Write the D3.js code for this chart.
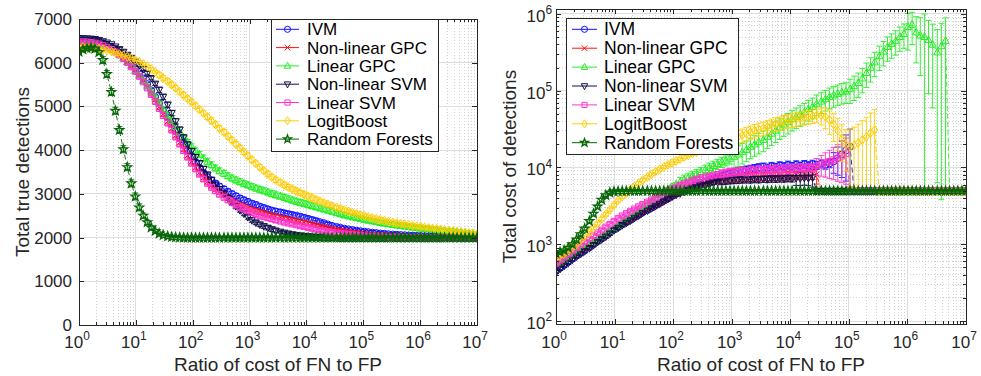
<!DOCTYPE html>
<html><head><meta charset="utf-8">
<script src="https://cdn.jsdelivr.net/npm/d3@7"></script>
<style>body{margin:0;background:#fff}svg{display:block}</style>
</head><body><svg id="c" width="981" height="376"></svg>
<script>
// ---------------- DATA ----------------
const ratioLog10 = [
0.00,0.07,0.14,0.21,0.28,0.35,0.42,0.49,0.57,0.64,
0.71,0.78,0.85,0.92,0.99,1.06,1.13,1.20,1.27,1.34,
1.41,1.48,1.56,1.63,1.70,1.77,1.84,1.91,1.98,2.05,
2.12,2.19,2.26,2.33,2.40,2.47,2.55,2.62,2.69,2.76,
2.83,2.90,2.97,3.04,3.11,3.18,3.25,3.32,3.39,3.46,
3.54,3.61,3.68,3.75,3.82,3.89,3.96,4.03,4.10,4.17,
4.24,4.31,4.38,4.45,4.53,4.60,4.67,4.74,4.81,4.88,
4.95,5.02,5.09,5.16,5.23,5.30,5.37,5.44,5.52,5.59,
5.66,5.73,5.80,5.87,5.94,6.01,6.08,6.15,6.22,6.29,
6.36,6.43,6.51,6.58,6.65,6.72,6.79,6.86,6.93,7.00];

const seriesNames = ["IVM","Non-linear GPC","Linear GPC","Non-linear SVM","Linear SVM","LogitBoost","Random Forests"];
const xTickExp = [0,1,2,3,4,5,6,7];
const leftYTicks = [0,1000,2000,3000,4000,5000,6000,7000];
const rightYTickExp = [2,3,4,5,6];
const xLabel = "Ratio of cost of FN to FP";
const leftYLabel = "Total true detections";
const rightYLabel = "Total cost of detections";

// Left panel: total true detections (means)
const leftIVM = [
6520,6520,6515,6510,6500,6480,6450,6410,6360,6300,
6230,6150,6060,5970,5870,5760,5640,5510,5370,5220,
5070,4910,4750,4590,4430,4270,4120,3980,3840,3710,
3590,3480,3390,3310,3240,3170,3110,3050,3000,2950,
2900,2860,2820,2780,2750,2710,2680,2650,2620,2600,
2580,2560,2540,2520,2500,2480,2455,2430,2405,2380,
2355,2330,2300,2270,2245,2225,2205,2190,2175,2160,
2148,2136,2125,2115,2105,2095,2087,2079,2072,2066,
2060,2055,2050,2045,2041,2037,2033,2030,2027,2024,
2021,2019,2017,2015,2013,2011,2009,2008,2007,2006];
const leftNLGPC = [
6500,6500,6495,6490,6475,6455,6420,6380,6330,6270,
6200,6120,6030,5930,5830,5710,5590,5450,5300,5150,
4990,4830,4660,4500,4340,4180,4030,3880,3740,3610,
3490,3380,3280,3190,3110,3040,2970,2910,2850,2800,
2750,2710,2670,2640,2610,2580,2555,2530,2505,2480,
2460,2440,2420,2400,2380,2360,2340,2320,2300,2280,
2260,2240,2220,2200,2180,2165,2150,2135,2120,2110,
2100,2090,2080,2070,2062,2055,2048,2042,2036,2031,
2026,2022,2018,2015,2012,2010,2008,2006,2004,2003,
2002,2001,2001,2000,2000,2000,2000,2000,2000,2000];
const leftLinGPC = [
6500,6500,6495,6485,6470,6445,6410,6365,6310,6250,
6180,6100,6010,5915,5815,5705,5590,5470,5340,5205,
5065,4925,4800,4670,4530,4405,4290,4185,4085,3990,
3900,3815,3735,3660,3590,3525,3465,3410,3360,3315,
3275,3235,3200,3165,3130,3100,3070,3040,3005,2975,
2945,2915,2885,2855,2828,2800,2775,2750,2725,2700,
2670,2645,2620,2595,2560,2535,2512,2490,2468,2448,
2428,2408,2390,2372,2355,2338,2322,2307,2292,2278,
2265,2252,2240,2228,2217,2206,2196,2186,2176,2167,
2158,2149,2140,2131,2122,2113,2104,2095,2087,2080];
const leftNLSVM = [
6560,6560,6555,6550,6540,6520,6490,6460,6420,6370,
6310,6250,6180,6110,6040,5950,5860,5760,5650,5520,
5380,5220,5040,4850,4660,4470,4290,4130,3980,3840,
3700,3570,3440,3320,3210,3110,3010,2910,2810,2720,
2630,2550,2470,2400,2345,2300,2260,2225,2190,2160,
2135,2112,2092,2075,2060,2048,2038,2030,2022,2016,
2011,2007,2004,2002,2000,1998,1997,1996,1995,1995,
1995,1995,1994,1994,1994,1993,1993,1993,1993,1993,
1993,1993,1993,1993,1993,1993,1993,1993,1993,1993,
1993,1993,1993,1993,1993,1993,1993,1993,1993,1993];
const leftLinSVM = [
6480,6480,6475,6465,6450,6430,6395,6355,6305,6245,
6175,6095,6005,5905,5800,5685,5560,5420,5270,5110,
4950,4790,4620,4460,4300,4140,3990,3840,3700,3570,
3450,3340,3240,3150,3070,2990,2920,2860,2800,2745,
2695,2650,2610,2570,2535,2505,2475,2450,2425,2400,
2375,2350,2330,2310,2290,2270,2250,2230,2210,2190,
2170,2155,2140,2125,2110,2098,2086,2075,2065,2055,
2046,2038,2030,2023,2017,2012,2008,2004,2001,1998,
1996,1995,1994,1993,1993,1992,1992,1992,1992,1992,
1992,1992,1992,1992,1992,1992,1992,1992,1992,1992];
const leftLogitBoost = [
6350,6355,6355,6350,6340,6325,6305,6280,6255,6225,
6195,6165,6135,6100,6065,6020,5970,5915,5855,5790,
5720,5650,5575,5500,5420,5340,5260,5180,5100,5015,
4930,4845,4760,4675,4590,4500,4410,4320,4230,4140,
4050,3960,3870,3780,3695,3610,3530,3455,3385,3320,
3260,3205,3155,3110,3065,3025,2985,2945,2905,2865,
2830,2795,2760,2725,2690,2660,2630,2600,2570,2545,
2520,2495,2470,2448,2426,2405,2385,2366,2348,2331,
2315,2300,2286,2272,2259,2246,2234,2222,2210,2198,
2186,2174,2162,2150,2138,2126,2114,2102,2090,2078];
const leftRandomForests = [
6250,6300,6330,6340,6320,6240,6060,5740,5330,4900,
4460,4020,3610,3240,2940,2690,2500,2350,2230,2150,
2090,2055,2030,2015,2005,2000,1998,1996,1995,1995,
1995,1994,1995,1995,1994,1995,1995,1994,1995,1995,
1995,1994,1995,1995,1994,1995,1995,1994,1995,1995,
1995,1994,1995,1995,1994,1995,1995,1994,1995,1995,
1995,1994,1995,1995,1994,1995,1995,1994,1995,1995,
1995,1994,1995,1995,1994,1995,1995,1994,1995,1995,
1995,1994,1995,1995,1994,1995,1995,1994,1995,1995,
1995,1994,1995,1995,1994,1995,1995,1994,1995,1995];

// Left panel: error bar half-widths (detections)
const leftErrIVM = [
20,20,20,20,20,20,20,20,20,20,
40,40,40,40,40,40,40,40,40,40,
60,60,60,60,60,60,60,60,60,60,
60,60,60,60,60,60,60,60,60,60,
60,60,60,60,60,60,60,60,60,60,
60,60,60,60,60,60,60,60,60,60,
45,45,45,45,45,45,45,45,45,45,
45,45,45,45,45,45,45,45,45,45,
30,30,30,30,30,30,30,30,30,30,
30,30,30,30,30,30,30,30,30,30];
const leftErrNLGPC = [
20,20,20,20,20,20,20,20,20,20,
40,40,40,40,40,40,40,40,40,40,
60,60,60,60,60,60,60,60,60,60,
60,60,60,60,60,60,60,60,60,60,
55,55,55,55,55,55,55,55,55,55,
50,50,50,50,50,50,50,50,50,50,
40,40,40,40,40,40,40,40,40,40,
30,30,30,30,30,30,30,30,30,30,
20,20,20,20,20,20,20,20,20,20,
15,15,15,15,15,15,15,15,15,15];
const leftErrLinGPC = [
20,20,20,20,20,20,20,20,20,20,
40,40,40,40,40,40,40,40,40,40,
60,60,60,60,60,60,60,60,60,60,
70,70,70,70,70,70,70,70,70,70,
70,70,70,70,70,70,70,70,70,70,
70,70,70,70,70,70,70,70,70,70,
60,60,60,60,60,60,60,60,60,60,
55,55,55,55,55,55,55,55,55,55,
45,45,45,45,45,45,45,45,45,45,
40,40,40,40,40,40,40,40,40,40];
const leftErrNLSVM = [
20,20,20,20,20,20,20,20,20,20,
40,40,40,40,40,40,40,40,40,40,
60,60,60,60,60,60,60,60,60,60,
60,60,60,60,60,60,60,60,60,60,
50,50,50,50,50,50,50,50,50,50,
30,30,30,30,30,30,30,30,30,30,
15,15,15,15,15,15,15,15,15,15,
10,10,10,10,10,10,10,10,10,10,
10,10,10,10,10,10,10,10,10,10,
10,10,10,10,10,10,10,10,10,10];
const leftErrLinSVM = [
20,20,20,20,20,20,20,20,20,20,
40,40,40,40,40,40,40,40,40,40,
60,60,60,60,60,60,60,60,60,60,
60,60,60,60,60,60,60,60,60,60,
55,55,55,55,55,55,55,55,55,55,
45,45,45,45,45,45,45,45,45,45,
35,35,35,35,35,35,35,35,35,35,
25,25,25,25,25,25,25,25,25,25,
15,15,15,15,15,15,15,15,15,15,
15,15,15,15,15,15,15,15,15,15];
const leftErrLogitBoost = [
30,30,30,30,30,30,30,30,30,30,
30,30,30,30,30,30,30,30,30,30,
60,60,60,60,60,60,60,60,60,60,
60,60,60,60,60,60,60,60,60,60,
60,60,60,60,60,60,60,60,60,60,
60,60,60,60,60,60,60,60,60,60,
45,45,45,45,45,45,45,45,45,45,
45,45,45,45,45,45,45,45,45,45,
40,40,40,40,40,40,40,40,40,40,
40,40,40,40,40,40,40,40,40,40];
const leftErrRandomForests = [
40,40,40,40,40,40,80,80,80,80,
80,80,80,80,80,80,60,50,40,30,
15,10,10,10,10,10,10,10,10,10,
10,10,10,10,10,10,10,10,10,10,
10,10,10,10,10,10,10,10,10,10,
10,10,10,10,10,10,10,10,10,10,
10,10,10,10,10,10,10,10,10,10,
10,10,10,10,10,10,10,10,10,10,
10,10,10,10,10,10,10,10,10,10,
10,10,10,10,10,10,10,10,10,10];

// Right panel: total cost of detections (means)
const rightIVM = [
447,490,537,589,646,708,767,832,912,1000,
1096,1189,1288,1413,1549,1660,1799,1928,2065,2239,
2399,2600,2786,2985,3199,3428,3673,3936,4217,4519,
4786,5070,5370,5689,6026,6310,6607,6918,7244,7499,
7762,8035,8318,8610,8913,9120,9333,9550,9772,10000,
10200,9900,10400,10100,10600,10300,10800,10400,10900,10500,
11000,10600,11100,10700,11200,10800,11300,12000,13200,14800,
16600,18600,4950,4950,4950,4950,4950,4950,4950,4950,
4950,4950,4950,4950,4950,4950,4950,4950,4950,4950,
4950,4950,4950,4950,4950,4950,4950,4950,4950,4950];
const rightNLGPC = [
501,543,589,638,692,750,804,871,944,1023,
1109,1202,1303,1413,1549,1679,1820,1950,2089,2265,
2427,2630,2818,3020,3236,3467,3715,3981,4266,4519,
4786,5012,5248,5495,5754,5957,6166,6383,6607,6761,
6918,7079,7244,7300,7400,7350,7500,7450,7600,7500,
7700,7600,7750,7650,7800,7700,7900,7800,8000,7900,
8100,8000,8200,8100,4950,4950,4950,4950,4950,4950,
4950,4950,4950,4950,4950,4950,4950,4950,4950,4950,
4950,4950,4950,4950,4950,4950,4950,4950,4950,4950,
4950,4950,4950,4950,4950,4950,4950,4950,4950,4950];
const rightLinGPC = [
537,582,631,676,733,794,851,923,1000,1072,
1161,1259,1349,1462,1585,1738,1905,2089,2291,2512,
2754,3020,3311,3631,3981,4365,4786,5188,5623,6026,
6457,6918,7328,7762,8222,8710,9333,9886,10471,11092,
11749,12303,13032,13804,14791,15849,16982,18621,19953,21380,
22909,25119,27542,30200,33113,36308,38905,42658,45709,48978,
52481,57544,61660,67608,72444,77625,83176,87096,91201,95499,
97724,104713,114815,125893,144544,169824,199526,234423,281838,323594,
371535,407380,446684,501187,549541,676083,724436,575440,524807,501187,
457088,398107,316228,380189,446684,4950,4950,4950,4950,4950];
const rightNLSVM = [
437,479,525,575,631,692,750,813,891,977,
1072,1161,1259,1380,1531,1641,1778,1905,2042,2213,
2371,2570,2754,2951,3162,3388,3631,3890,4169,4416,
4624,4842,5070,5309,5495,5689,5888,6095,6310,6457,
6607,6700,6800,6850,6900,6950,7000,6950,7050,7000,
7100,7050,7150,7100,7200,7150,7250,7200,7300,7250,
7350,7300,7400,4950,4950,4950,4950,4950,4950,4950,
4950,4950,4950,4950,4950,4950,4950,4950,4950,4950,
4950,4950,4950,4950,4950,4950,4950,4950,4950,4950,
4950,4950,4950,4950,4950,4950,4950,4950,4950,4950];
const rightLinSVM = [
562,617,676,741,813,891,977,1072,1175,1288,
1413,1531,1679,1820,1995,2163,2344,2512,2692,2884,
3090,3311,3548,3802,4074,4365,4677,4955,5248,5559,
5888,6166,6457,6761,7079,7328,7586,7762,7943,8128,
8318,8511,8710,8810,8900,9100,8800,9300,9000,9500,
9100,9600,9200,9700,9300,9800,9400,9900,9500,10000,
9700,10100,9900,10500,11000,11500,12000,12600,13200,14100,
15100,4950,4950,4950,4950,4950,4950,4950,4950,4950,
4950,4950,4950,4950,4950,4950,4950,4950,4950,4950,
4950,4950,4950,4950,4950,4950,4950,4950,4950,4950];
const rightLogitBoost = [
661,708,759,832,912,1000,1122,1259,1413,1622,
1862,2138,2455,2818,3236,3715,4169,4624,5129,5689,
6237,6839,7499,8128,8810,9441,10116,10839,11482,12162,
12882,13646,14454,15136,15849,16596,17378,18197,19055,19953,
20893,21878,22909,23988,25119,26303,27542,28840,30200,31623,
32359,33884,35481,37154,38019,39811,40738,41687,42658,43652,
44668,45709,46774,47863,47863,45709,41687,36308,30200,23988,
19953,18621,19498,20893,22909,25119,28184,30903,4950,4950,
4950,4950,4950,4950,4950,4950,4950,4950,4950,4950,
4950,4950,4950,4950,4950,4950,4950,4950,4950,4950];
const rightRandomForests = [
760,790,830,900,1000,1150,1350,1600,2000,2500,
3100,3800,4350,4700,4850,4900,4920,4930,4935,4940,
4945,4950,4950,4950,4950,4950,4950,4950,4950,4950,
4950,4950,4950,4950,4950,4950,4950,4950,4950,4950,
4950,4950,4950,4950,4950,4950,4950,4950,4950,4950,
4950,4950,4950,4950,4950,4950,4950,4950,4950,4950,
4950,4950,4950,4950,4950,4950,4950,4950,4950,4950,
4950,4950,4950,4950,4950,4950,4950,4950,4950,4950,
4950,4950,4950,4950,4950,4950,4950,4950,4950,4950,
4950,4950,4950,4950,4950,4950,4950,4950,4950,4950];

// Right panel: error bar half-widths as a fraction of the mean
const rightErrIVM = [
.05,.05,.05,.05,.05,.05,.05,.05,.05,.05,
.05,.05,.05,.05,.05,.05,.05,.05,.05,.05,
.05,.05,.05,.05,.05,.05,.05,.05,.05,.05,
.05,.05,.05,.05,.05,.05,.05,.05,.05,.05,
.12,.12,.12,.12,.12,.12,.12,.12,.12,.12,
.12,.12,.12,.12,.12,.12,.12,.12,.12,.12,
.12,.12,.12,.12,.12,.12,.12,.30,.40,.50,
.60,.70,0,0,0,0,0,0,0,0,
0,0,0,0,0,0,0,0,0,0,
0,0,0,0,0,0,0,0,0,0];
const rightErrNLGPC = [
.05,.05,.05,.05,.05,.05,.05,.05,.05,.05,
.05,.05,.05,.05,.05,.05,.05,.05,.05,.05,
.05,.05,.05,.05,.05,.05,.05,.05,.05,.05,
.05,.05,.05,.05,.05,.05,.05,.05,.05,.05,
.12,.12,.12,.12,.12,.12,.12,.12,.12,.12,
.12,.12,.12,.12,.12,.12,.12,.12,.12,.12,
.12,.12,.15,.25,0,0,0,0,0,0,
0,0,0,0,0,0,0,0,0,0,
0,0,0,0,0,0,0,0,0,0,
0,0,0,0,0,0,0,0,0,0];
const rightErrLinGPC = [
.05,.05,.05,.05,.05,.05,.05,.05,.05,.05,
.05,.05,.05,.05,.05,.05,.05,.05,.05,.05,
.05,.05,.05,.05,.05,.05,.05,.05,.05,.05,
.15,.15,.15,.15,.15,.15,.15,.15,.15,.15,
.15,.15,.15,.30,.30,.30,.30,.30,.30,.30,
.30,.30,.30,.30,.30,.30,.30,.30,.30,.30,
.30,.30,.30,.30,.30,.30,.30,.30,.30,.30,
.30,.35,.35,.35,.35,.35,.35,.35,.35,.35,
.35,.35,.35,.35,.35,.50,.45,.60,.70,.99,
.80,.85,.98,.99,.99,0,0,0,0,0];
const rightErrNLSVM = [
.05,.05,.05,.05,.05,.05,.05,.05,.05,.05,
.05,.05,.05,.05,.05,.05,.05,.05,.05,.05,
.05,.05,.05,.05,.05,.05,.05,.05,.05,.05,
.05,.05,.05,.05,.05,.05,.05,.05,.05,.05,
.10,.10,.10,.10,.10,.10,.10,.10,.10,.10,
.10,.10,.10,.10,.10,.10,.10,.10,.20,.20,
.20,.20,.25,0,0,0,0,0,0,0,
0,0,0,0,0,0,0,0,0,0,
0,0,0,0,0,0,0,0,0,0,
0,0,0,0,0,0,0,0,0,0];
const rightErrLinSVM = [
.05,.05,.05,.05,.05,.05,.05,.05,.05,.05,
.05,.05,.05,.05,.05,.05,.05,.05,.05,.05,
.05,.05,.05,.05,.05,.05,.05,.05,.05,.05,
.05,.05,.05,.05,.05,.05,.05,.05,.05,.05,
.12,.12,.12,.12,.12,.12,.12,.12,.12,.12,
.12,.12,.12,.12,.12,.12,.12,.12,.12,.12,
.12,.12,.12,.25,.30,.35,.40,.45,.50,.55,
.60,0,0,0,0,0,0,0,0,0,
0,0,0,0,0,0,0,0,0,0,
0,0,0,0,0,0,0,0,0,0];
const rightErrLogitBoost = [
.05,.05,.05,.05,.05,.05,.05,.05,.05,.05,
.05,.05,.05,.05,.05,.05,.05,.05,.05,.05,
.05,.05,.05,.05,.05,.05,.05,.05,.05,.05,
.05,.05,.05,.05,.05,.05,.05,.05,.05,.05,
.20,.20,.20,.20,.20,.20,.20,.20,.20,.20,
.20,.20,.20,.20,.20,.20,.20,.20,.20,.20,
.20,.20,.20,.20,.25,.30,.35,.40,.45,.50,
.55,.70,.72,.75,.78,.80,.82,.84,0,0,
0,0,0,0,0,0,0,0,0,0,
0,0,0,0,0,0,0,0,0,0];
const rightErrRandomForests = [
.04,.04,.04,.04,.04,.04,.04,.04,.04,.04,
.04,.04,.04,.04,.04,.01,.01,.01,.01,.01,
.01,.01,.01,.01,.01,.01,.01,.01,.01,.01,
.01,.01,.01,.01,.01,.01,.01,.01,.01,.01,
.01,.01,.01,.01,.01,.01,.01,.01,.01,.01,
.01,.01,.01,.01,.01,.01,.01,.01,.01,.01,
.01,.01,.01,.01,.01,.01,.01,.01,.01,.01,
.01,.01,.01,.01,.01,.01,.01,.01,.01,.01,
.01,.01,.01,.01,.01,.01,.01,.01,.01,.01,
.01,.01,.01,.01,.01,.01,.01,.01,.01,.01];

// ---------------- STYLE ----------------
const seriesColors = ["#1010ff","#ff1010","#22ee22","#10104a","#ff33cc","#ffcc00","#076607"];
const seriesMarkers = ["o","x","^","v","s","d","p"];
const FONT = "'Liberation Sans', Arial, Helvetica, sans-serif";
const AXC = "#262626";

const svg = d3.select("#c");
svg.append("rect").attr("width",981).attr("height",376).attr("fill","#fff");

function markerPath(t, k){
  const s = 3.4*k;
  switch(t){
    case "o": return `M${s},0A${s},${s} 0 1,1 ${-s},0A${s},${s} 0 1,1 ${s},0Z`;
    case "x": { const a=s*0.9; return `M${-a},${-a}L${a},${a}M${-a},${a}L${a},${-a}`; }
    case "^": return `M0,${-s*1.2}L${s*1.05},${s*0.75}L${-s*1.05},${s*0.75}Z`;
    case "v": return `M0,${s*1.2}L${s*1.05},${-s*0.75}L${-s*1.05},${-s*0.75}Z`;
    case "s": { const a=s*0.85; return `M${-a},${-a}H${a}V${a}H${-a}Z`; }
    case "d": return `M0,${-s*1.3}L${s*0.85},0L0,${s*1.3}L${-s*0.85},0Z`;
    case "p": {
      let d=""; const R=s*1.35, r=s*0.55;
      for(let i=0;i<10;i++){ const ang=-Math.PI/2+i*Math.PI/5; const rr=i%2?r:R;
        d+=(i?"L":"M")+(rr*Math.cos(ang)).toFixed(2)+","+(rr*Math.sin(ang)).toFixed(2); }
      return d+"Z";
    }
  }
}

function powLabel(sel, k, fs){
  sel.append("tspan").text("10");
  sel.append("tspan").attr("dy",-fs*0.45).attr("font-size",fs*0.7).text(k);
}

function drawPanel(p){
  const g = svg.append("g");
  const x = d3.scaleLog().domain([1,1e7]).range([p.x0,p.x1]);
  const y = p.log ? d3.scaleLog().domain(p.yDomain).range([p.y1,p.y0])
                  : d3.scaleLinear().domain(p.yDomain).range([p.y1,p.y0]);
  const clipId = "clip"+p.id;
  svg.append("clipPath").attr("id",clipId).append("rect")
     .attr("x",p.x0).attr("y",p.y0).attr("width",p.x1-p.x0).attr("height",p.y1-p.y0);

  const xMajor = xTickExp.map(e=>Math.pow(10,e));
  const xMinor = [];
  xTickExp.slice(0,-1).forEach(e=>{ for(let m=2;m<=9;m++) xMinor.push(m*Math.pow(10,e)); });
  let yMajor, yMinor=[];
  if(p.log){
    yMajor = rightYTickExp.map(e=>Math.pow(10,e));
    for(let e=1;e<=6;e++) for(let m=2;m<=9;m++){ const v=m*Math.pow(10,e); if(v>=p.yDomain[0]&&v<=p.yDomain[1]) yMinor.push(v); }
  } else yMajor = leftYTicks;

  // grid
  const grid = g.append("g").attr("shape-rendering","crispEdges");
  grid.selectAll(".mx").data(xMinor).join("line").attr("x1",d=>x(d)).attr("x2",d=>x(d))
    .attr("y1",p.y0).attr("y2",p.y1).attr("stroke","#bdbdbd").attr("stroke-dasharray","1,2").attr("stroke-width",0.7);
  grid.selectAll(".my").data(yMinor).join("line").attr("y1",d=>y(d)).attr("y2",d=>y(d))
    .attr("x1",p.x0).attr("x2",p.x1).attr("stroke","#bdbdbd").attr("stroke-dasharray","1,2").attr("stroke-width",0.7);
  grid.selectAll(".Mx").data(xMajor).join("line").attr("x1",d=>x(d)).attr("x2",d=>x(d))
    .attr("y1",p.y0).attr("y2",p.y1).attr("stroke","#dedede").attr("stroke-width",1);
  grid.selectAll(".My").data(yMajor).join("line").attr("y1",d=>y(d)).attr("y2",d=>y(d))
    .attr("x1",p.x0).attr("x2",p.x1).attr("stroke","#dedede").attr("stroke-width",1);

  // series
  const data = g.append("g").attr("clip-path",`url(#${clipId})`);
  p.series.forEach((vals,si)=>{
    const col = seriesColors[si];
    const pts = vals.map((v,i)=>({x:Math.pow(10,ratioLog10[i]), y:v,
      e: p.relErr ? vals[i]*p.errs[si][i] : p.errs[si][i]}));
    const sg = data.append("g");
    const eb = sg.append("g").attr("stroke",col).attr("stroke-width",0.9).attr("fill","none");
    pts.forEach(d=>{
      const cx = x(d.x);
      const hi = d.y + d.e, lo = d.y - d.e;
      const yHi = y(Math.min(hi, p.yDomain[1]*1.5));
      const yLo = lo > 0 ? y(p.log ? Math.max(lo, p.yDomain[0]*0.5) : lo) : p.y1+2;
      eb.append("line").attr("x1",cx).attr("x2",cx).attr("y1",yHi).attr("y2",yLo);
      eb.append("line").attr("x1",cx-3).attr("x2",cx+3).attr("y1",yHi).attr("y2",yHi);
      if(lo>0) eb.append("line").attr("x1",cx-3).attr("x2",cx+3).attr("y1",yLo).attr("y2",yLo);
    });
    sg.append("path").datum(pts).attr("fill","none").attr("stroke",col).attr("stroke-width",0.9)
      .attr("stroke-dasharray","5,3")
      .attr("d", d3.line().x(d=>x(d.x)).y(d=>y(d.y)));
    sg.selectAll("path.m").data(pts).join("path").attr("class","m")
      .attr("transform",d=>`translate(${x(d.x)},${y(d.y)})`)
      .attr("d", markerPath(seriesMarkers[si],1))
      .attr("fill","none").attr("stroke",col).attr("stroke-width",si===6?1.3:1);
  });

  // axes box and ticks
  const ax = g.append("g").attr("shape-rendering","crispEdges");
  const style = s=>{ s.select(".domain").remove(); s.selectAll("line").attr("stroke",AXC); s.selectAll("text").remove(); };
  ax.append("g").attr("transform",`translate(0,${p.y1})`).call(d3.axisBottom(x).tickValues(xMajor).tickSize(-5).tickFormat("")).call(style);
  ax.append("g").attr("transform",`translate(0,${p.y1})`).call(d3.axisBottom(x).tickValues(xMinor).tickSize(-3).tickFormat("")).call(style);
  ax.append("g").attr("transform",`translate(0,${p.y0})`).call(d3.axisTop(x).tickValues(xMajor).tickSize(-5).tickFormat("")).call(style);
  ax.append("g").attr("transform",`translate(0,${p.y0})`).call(d3.axisTop(x).tickValues(xMinor).tickSize(-3).tickFormat("")).call(style);
  ax.append("g").attr("transform",`translate(${p.x0},0)`).call(d3.axisLeft(y).tickValues(yMajor).tickSize(-5).tickFormat("")).call(style);
  ax.append("g").attr("transform",`translate(${p.x1},0)`).call(d3.axisRight(y).tickValues(yMajor).tickSize(-5).tickFormat("")).call(style);
  if(yMinor.length){
    ax.append("g").attr("transform",`translate(${p.x0},0)`).call(d3.axisLeft(y).tickValues(yMinor).tickSize(-3).tickFormat("")).call(style);
    ax.append("g").attr("transform",`translate(${p.x1},0)`).call(d3.axisRight(y).tickValues(yMinor).tickSize(-3).tickFormat("")).call(style);
  }
  ax.append("rect").attr("x",p.x0).attr("y",p.y0).attr("width",p.x1-p.x0).attr("height",p.y1-p.y0)
    .attr("fill","none").attr("stroke",AXC).attr("stroke-width",1);

  // tick labels
  const fs = 17;
  xTickExp.forEach(e=>{
    const t = g.append("text").attr("x",x(Math.pow(10,e))-2).attr("y",348).attr("text-anchor","middle")
      .attr("font-family",FONT).attr("font-size",fs).attr("fill",AXC);
    powLabel(t,e,fs);
  });
  if(p.log){
    rightYTickExp.forEach(e=>{
      const t = g.append("text").attr("x",p.x0-4).attr("y",y(Math.pow(10,e))+8).attr("text-anchor","end")
        .attr("font-family",FONT).attr("font-size",fs).attr("fill",AXC);
      powLabel(t,e,fs);
    });
  } else {
    leftYTicks.forEach(v=>{
      g.append("text").attr("x",p.x0-7).attr("y",y(v)+6).attr("text-anchor","end")
        .attr("font-family",FONT).attr("font-size",fs).attr("fill",AXC).text(v);
    });
  }
  // axis titles
  g.append("text").attr("x",(p.x0+p.x1)/2).attr("y",371).attr("text-anchor","middle")
    .attr("font-family",FONT).attr("font-size",19).attr("fill",AXC).text(xLabel);
  g.append("text").attr("transform",`translate(${p.ylabX},${(p.y0+p.y1)/2}) rotate(-90)`).attr("text-anchor","middle")
    .attr("font-family",FONT).attr("font-size",19).attr("fill",AXC).text(p.yLabel);

  // legend
  const L = p.legend;
  const lg = g.append("g");
  lg.append("rect").attr("x",L.x).attr("y",L.y).attr("width",L.w).attr("height",L.h)
    .attr("fill","#fff").attr("stroke",AXC).attr("stroke-width",1).attr("shape-rendering","crispEdges");
  seriesNames.forEach((name,si)=>{
    const ry = L.y + L.first + si*L.step;
    lg.append("line").attr("x1",L.x+L.l0).attr("x2",L.x+L.l1).attr("y1",ry).attr("y2",ry)
      .attr("stroke",seriesColors[si]).attr("stroke-width",1);
    lg.append("path").attr("transform",`translate(${L.x+(L.l0+L.l1)/2},${ry})`).attr("d",markerPath(seriesMarkers[si],0.9))
      .attr("fill","none").attr("stroke",seriesColors[si]).attr("stroke-width",si===6?1.3:1);
    lg.append("text").attr("x",L.x+L.tx).attr("y",ry+6).attr("font-family",FONT).attr("font-size",L.fs)
      .attr("fill","#000").text(name);
  });
}

drawPanel({id:"L", x0:79, x1:477, y0:19, y1:325, log:false, yDomain:[0,7000],
  series:[leftIVM,leftNLGPC,leftLinGPC,leftNLSVM,leftLinSVM,leftLogitBoost,leftRandomForests],
  errs:[leftErrIVM,leftErrNLGPC,leftErrLinGPC,leftErrNLSVM,leftErrLinSVM,leftErrLogitBoost,leftErrRandomForests],
  relErr:false, yLabel:leftYLabel, ylabX:29,
  legend:{x:271,y:19,w:167,h:132,first:10.3,step:18.3,l0:5,l1:28,tx:36,fs:17}});

drawPanel({id:"R", x0:556, x1:966, y0:9, y1:324, log:true, yDomain:[91.4,1.16e6],
  series:[rightIVM,rightNLGPC,rightLinGPC,rightNLSVM,rightLinSVM,rightLogitBoost,rightRandomForests],
  errs:[rightErrIVM,rightErrNLGPC,rightErrLinGPC,rightErrNLSVM,rightErrLinSVM,rightErrLogitBoost,rightErrRandomForests],
  relErr:true, yLabel:rightYLabel, ylabX:516,
  legend:{x:566,y:18,w:172,h:136,first:11.3,step:18.9,l0:6,l1:31,tx:38,fs:17.5}});
</script></body></html>
